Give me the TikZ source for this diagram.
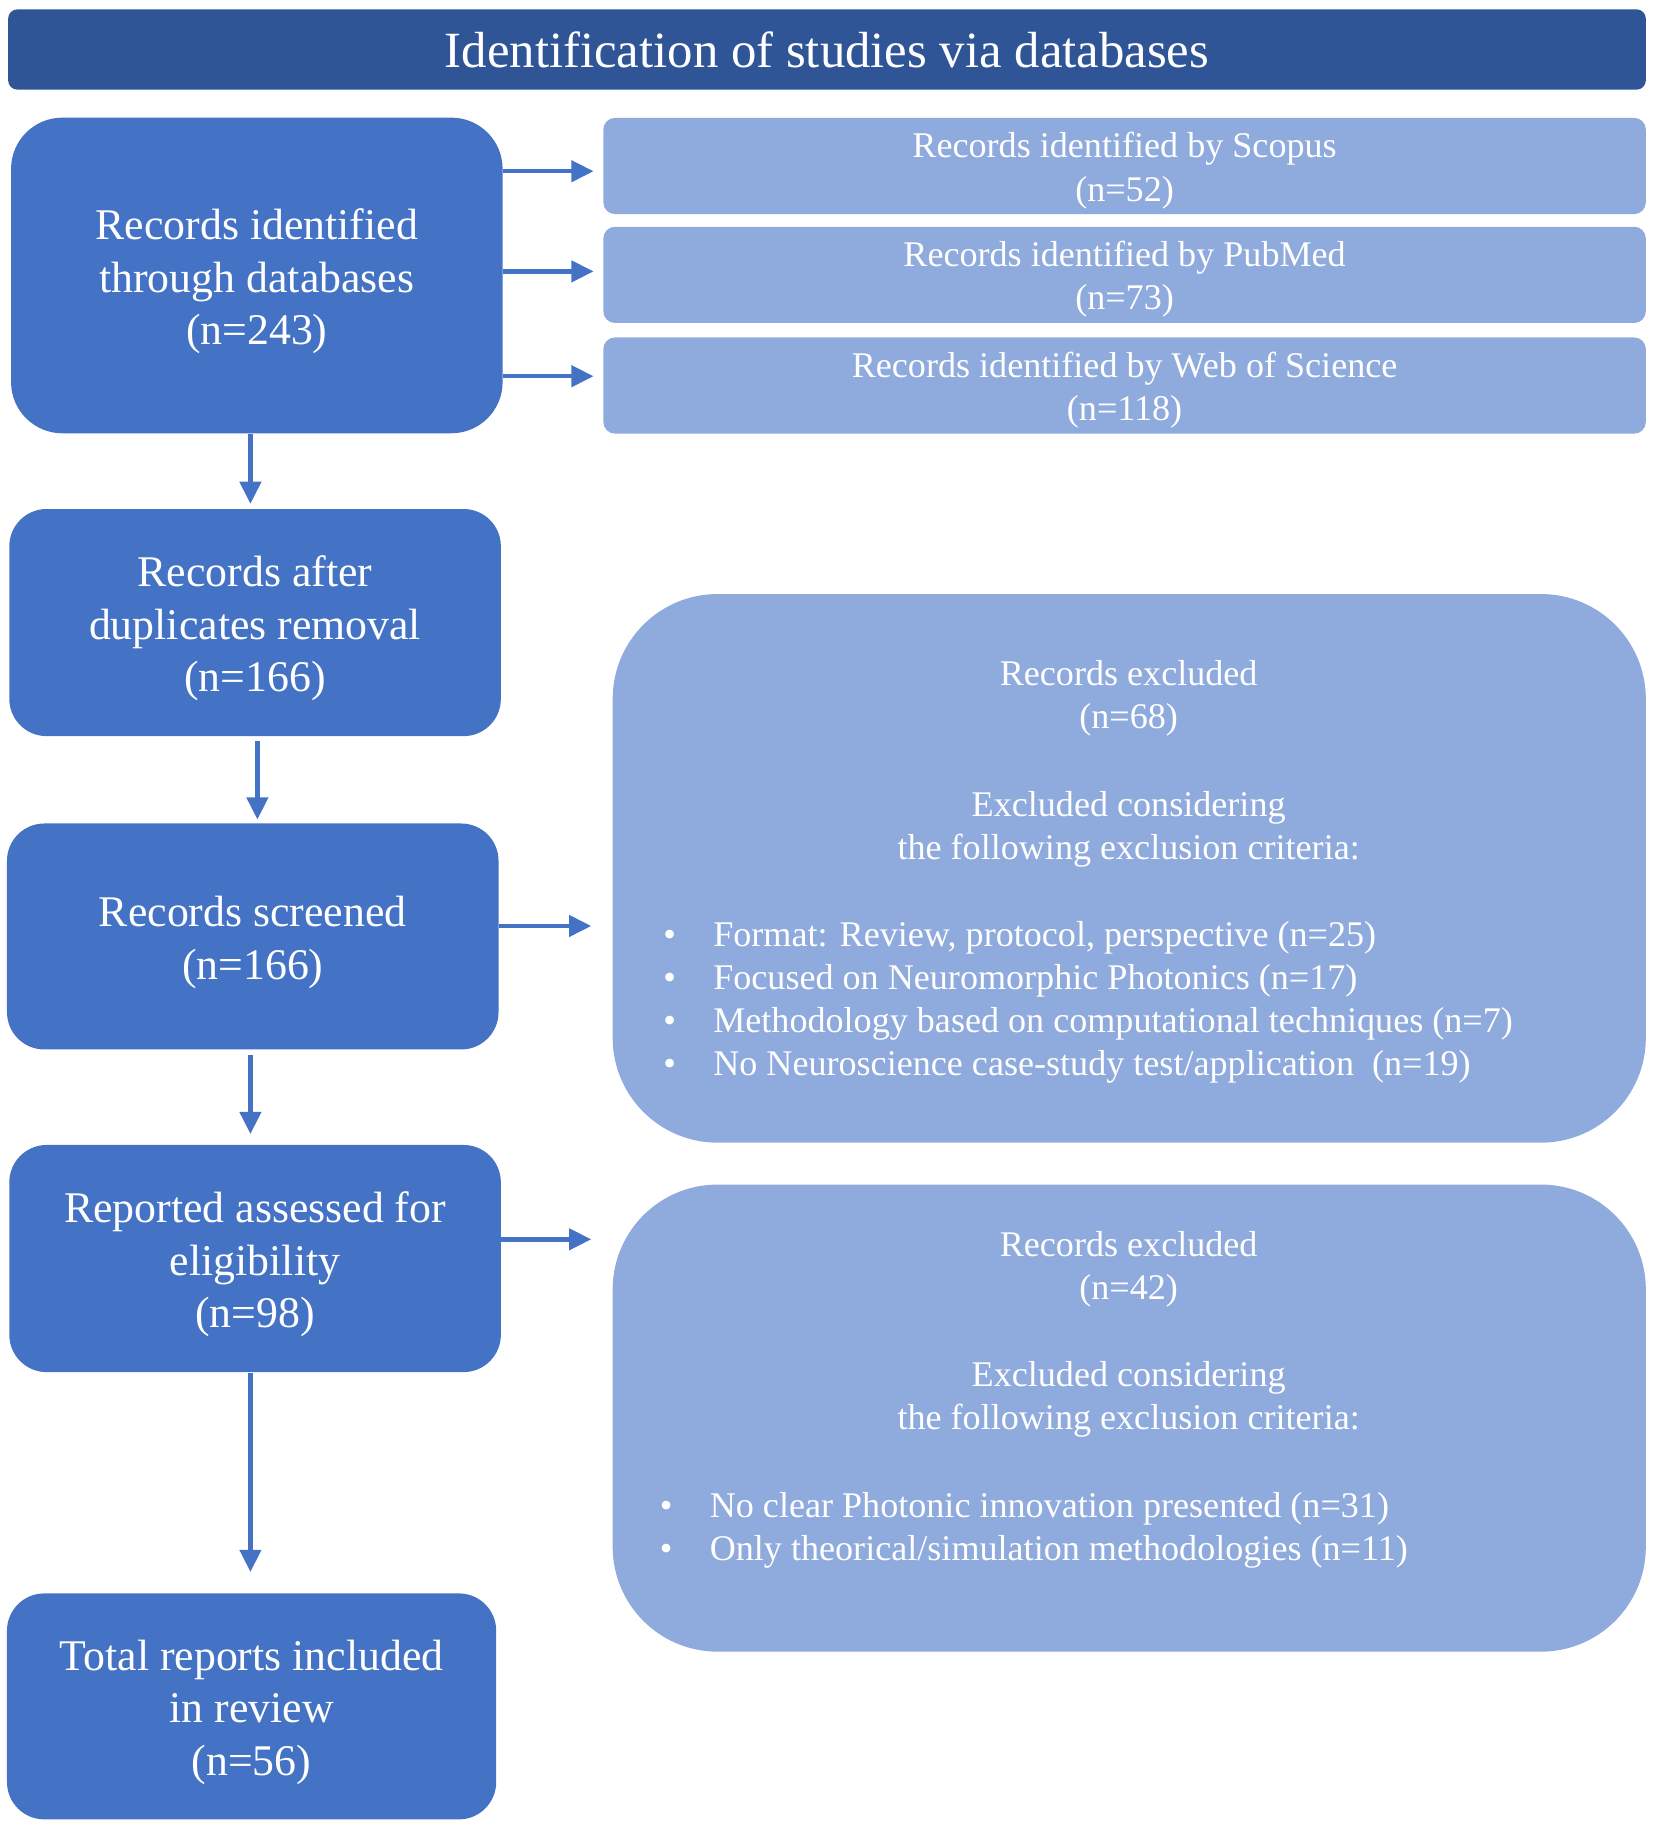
\documentclass[tikz,border=0pt]{standalone}
\usepackage{fontspec}
\setmainfont{Liberation Serif}
\usetikzlibrary{arrows.meta}
\definecolor{titleblue}{HTML}{2F5597}
\definecolor{darkbox}{HTML}{4472C4}
\definecolor{lightbox}{HTML}{8FAADC}
\begin{document}
\begin{tikzpicture}[x=0.5pt,y=-0.5pt,
  titlebox/.style={fill=titleblue, rounded corners=4pt, text=white, inner sep=0pt,
    minimum width=703pt, minimum height=34.5pt, font=\fontsize{21.8}{26}\selectfont},
  darknode/.style={fill=darkbox, rounded corners=16pt, inner sep=0pt,
    minimum width=211pt, minimum height=97.5pt},
  darktext/.style={text=white, align=center, inner sep=0pt, font=\fontsize{18.8}{22.5}\selectfont},
  lightnode/.style={fill=lightbox, rounded corners=5pt, inner sep=0pt,
    minimum width=447.5pt, minimum height=41.3pt},
  lighttext/.style={text=white, align=center, inner sep=0pt, font=\fontsize{15.5}{18.5}\selectfont},
  exbox/.style={fill=lightbox, rounded corners=45pt, inner sep=0pt, minimum width=443.5pt},
  extext/.style={text=white, inner sep=0pt, font=\fontsize{15.5}{18.5}\selectfont},
  arr/.style={draw=darkbox, line width=1.9pt, -{Triangle[length=9.5pt,width=9pt]}}
]
\useasboundingbox (0,0) rectangle (1420,1567.7);

\node[titlebox] (T) at (710,42.5) {Identification of studies via databases};

\node[darknode, rounded corners=22pt, minimum height=135.5pt] (A) at (220.5,236.5) {};
\node[darktext] (At) at ([yshift=-2.5pt]A.center) {Records identified\\through databases\\(n=243)};
\node[lightnode] (S1) at (965.5,142.5) {};
\node[lighttext] (S1t) at ([yshift=-2pt]S1.center) {Records identified by Scopus\\(n=52)};
\node[lightnode] (S2) at (965.5,236) {};
\node[lighttext] (S2t) at ([yshift=-2pt]S2.center) {Records identified by PubMed\\(n=73)};
\node[lightnode] (S3) at (965.5,331) {};
\node[lighttext] (S3t) at ([yshift=-2pt]S3.center) {Records identified by Web of Science\\(n=118)};

\node[darknode] (B) at (219,534.5) {};
\node[darktext] (Bt) at ([yshift=-2.5pt]B.center) {Records after\\duplicates removal\\(n=166)};
\node[darknode, minimum height=97pt] (C) at (217,804) {};
\node[darktext] (Ct) at ([yshift=-2.5pt]C.center) {Records screened\\(n=166)};
\node[darknode] (D) at (219,1080.5) {};
\node[darktext] (Dt) at ([yshift=-2.5pt]D.center) {Reported assessed for\\eligibility\\(n=98)};
\node[darknode, minimum width=210pt, minimum height=97pt] (E) at (216,1465) {};
\node[darktext] (Et) at ([yshift=-2.5pt]E.center) {Total reports included\\in review\\(n=56)};

\node[exbox, minimum height=235.5pt] (X1) at (969.5,745.5) {};
\node[extext, anchor=mid] (x1a) at (969,584) {Records excluded};
\node[extext, anchor=mid] (x1b) at (969,621) {(n=68)};
\node[extext, anchor=mid] (x1c) at (969,696) {Excluded considering};
\node[extext, anchor=mid] (x1d) at (969,733) {the following exclusion criteria:};
\foreach \yy/\tx [count=\i] in {808/{Format: Review, protocol, perspective (n=25)},
  845/{Focused on Neuromorphic Photonics (n=17)},
  882/{Methodology based on computational techniques (n=7)},
  919/{No Neuroscience case-study test/application\ \ (n=19)}}{
  \node[extext, anchor=mid] (x1bul\i) at (575,\yy) {•};
  \node[extext, anchor=mid west] (x1it\i) at (612,\yy) {\tx};
}

\node[exbox, minimum height=200.5pt] (X2) at (969.5,1217.5) {};
\node[extext, anchor=mid] (x2a) at (969,1074) {Records excluded};
\node[extext, anchor=mid] (x2b) at (969,1111) {(n=42)};
\node[extext, anchor=mid] (x2c) at (969,1186) {Excluded considering};
\node[extext, anchor=mid] (x2d) at (969,1223) {the following exclusion criteria:};
\foreach \yy/\tx [count=\i] in {1298/{No clear Photonic innovation presented (n=31)},
  1335/{Only theorical/simulation methodologies (n=11)}}{
  \node[extext, anchor=mid] (x2bul\i) at (572,\yy) {•};
  \node[extext, anchor=mid west] (x2it\i) at (609,\yy) {\tx};
}

% connectors
\coordinate (ya1) at (0,147);
\coordinate (ya2) at (0,233);
\coordinate (ya3) at (0,323);
\draw[arr, shorten >=4pt] (A.east |- ya1) -- (S1.west |- ya1);
\draw[arr, shorten >=4pt] (A.east |- ya2) -- (S2.west |- ya2);
\draw[arr, shorten >=4pt] (A.east |- ya3) -- (S3.west |- ya3);

\coordinate (xab) at (215,0);
\coordinate (xbc) at (221,0);
\draw[arr, shorten >=2pt] (A.south -| xab) -- (B.north -| xab);
\draw[arr, shorten >=1.5pt, shorten <=2pt] (B.south -| xbc) -- (C.north -| xbc);
\draw[arr, shorten >=4.5pt, shorten <=2pt] (C.south -| xab) -- (D.north -| xab);
\draw[arr, shorten >=9pt] (D.south -| xab) -- (E.north -| xab);

\coordinate (yc) at (0,795);
\coordinate (yd) at (0,1064);
\draw[arr, shorten >=9pt] (C.east |- yc) -- (X1.west |- yc);
\draw[arr, shorten >=9pt] (D.east |- yd) -- (X2.west |- yd);
\end{tikzpicture}
\end{document}
